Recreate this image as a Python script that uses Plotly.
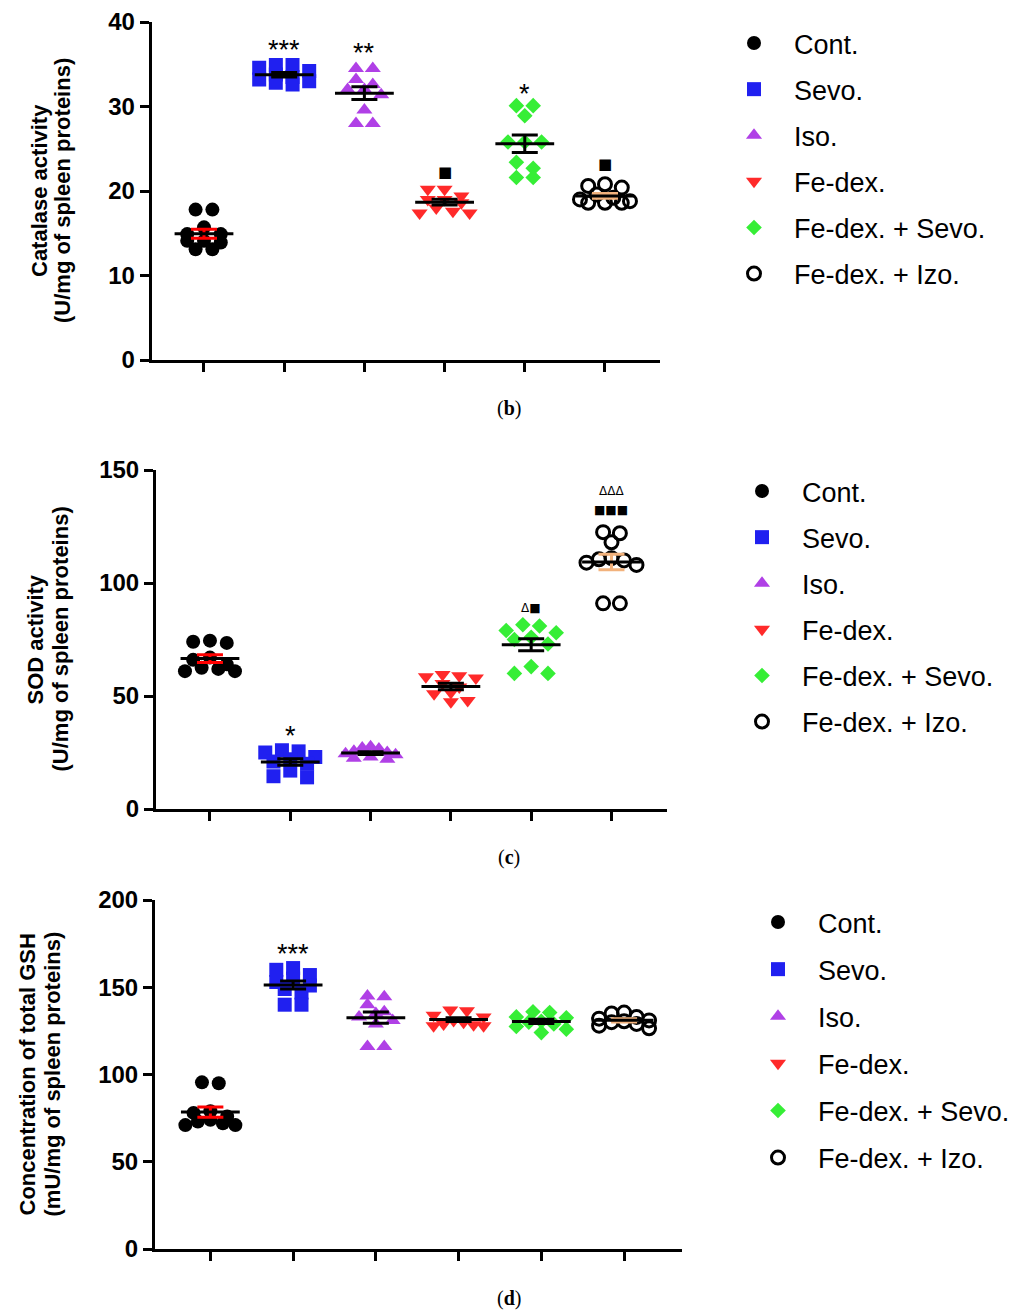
import plotly.graph_objects as go

W, H = 1035, 1311          # window size (page margin is removed, so figure == window)
FW, FH = W, H

# ---------------- data ----------------
groups = ["Cont.", "Sevo.", "Iso.", "Fe-dex.", "Fe-dex. + Sevo.", "Fe-dex. + Izo."]

catalase_cont = [17.8, 17.8, 15.7, 14.9, 14.9, 14.1, 14.1, 13.9, 13.1, 13.1]
catalase_sevo = [34.9, 34.9, 34.6, 34.2, 33.8, 33.5, 33.2, 33.0, 32.8, 32.6]
catalase_iso = [34.5, 34.5, 33.2, 32.6, 32.0, 32.0, 31.4, 29.6, 28.0, 28.0]
catalase_fedex = [20.2, 20.2, 19.4, 19.0, 19.0, 18.6, 18.0, 17.6, 17.4, 17.4]
catalase_fedex_sevo = [30.1, 30.1, 28.9, 25.8, 25.8, 25.8, 23.4, 22.7, 21.6, 21.6]
catalase_fedex_izo = [20.8, 20.6, 20.4, 19.6, 19.2, 19.0, 18.8, 18.6, 18.6, 18.6]

sod_cont = [74.5, 74.0, 73.5, 67.0, 66.0, 64.0, 62.5, 62.0, 61.0, 61.0]
sod_sevo = [26.0, 25.5, 25.0, 23.0, 22.0, 21.0, 20.0, 17.0, 14.5, 14.0]
sod_iso = [27.5, 27.0, 26.5, 25.5, 25.0, 24.5, 24.0, 23.0, 22.5, 22.0]
sod_fedex = [59.5, 59.0, 58.5, 58.0, 55.5, 54.0, 51.5, 51.0, 48.0, 47.5]
sod_fedex_sevo = [81.5, 81.0, 79.0, 78.0, 76.0, 75.0, 73.0, 63.0, 60.0, 60.0]
sod_fedex_izo = [122.5, 122.0, 118.0, 111.0, 110.5, 110.0, 109.0, 108.0, 91.0, 91.0]

gsh_cont = [95.5, 95.0, 79.0, 78.0, 76.0, 74.0, 73.0, 72.0, 71.0, 71.0]
gsh_sevo = [161.0, 160.0, 157.0, 155.0, 153.0, 151.0, 149.0, 147.0, 140.0, 140.0]
gsh_iso = [145.0, 144.5, 140.0, 136.0, 135.0, 133.0, 131.0, 129.0, 116.0, 116.0]
gsh_fedex = [137.0, 136.5, 134.0, 133.0, 131.0, 130.0, 129.0, 128.5, 128.0, 128.0]
gsh_fedex_sevo = [136.0, 135.5, 133.0, 132.5, 130.5, 130.0, 129.0, 127.5, 126.0, 124.0]
gsh_fedex_izo = [135.5, 135.0, 133.0, 132.0, 131.0, 130.5, 130.0, 129.0, 128.0, 126.5]

catalase = [catalase_cont, catalase_sevo, catalase_iso, catalase_fedex, catalase_fedex_sevo, catalase_fedex_izo]
sod = [sod_cont, sod_sevo, sod_iso, sod_fedex, sod_fedex_sevo, sod_fedex_izo]
gsh = [gsh_cont, gsh_sevo, gsh_iso, gsh_fedex, gsh_fedex_sevo, gsh_fedex_izo]

catalase_ticks = [0, 10, 20, 30, 40]
sod_ticks = [0, 50, 100, 150]
gsh_ticks = [0, 50, 100, 150, 200]

# significance marks: (text, group index, y value)
catalase_marks = [("***", 1, 37.6), ("**", 2, 37.3), ("*", 4, 32.4), ("■", 3, 22.2), ("■", 5, 23.2)]
sod_marks = [("*", 1, 35.8), ("Δ■", 4, 88.8), ("■■■", 5, 132.3), ("ΔΔΔ", 5, 140.8)]
gsh_marks = [("***", 1, 173.6)]

# ---------------- styles ----------------
colors = ["#000000", "#2020f0", "#b040e6", "#ff2a2a", "#36ee36", "#000000"]
symbols = ["circle", "square", "triangle-up", "triangle-down", "diamond", "circle-open"]
msizes = [14, 14, 14, 14, 12, 13]
sem_colors = ["#ff0000", "#000000", "#000000", "#000000", "#000000", "#f2b27c"]
FONT = "Liberation Sans, Arial, DejaVu Sans"


def fx(X):
    return X / FW


def fy(Y):
    return 1 - Y / FH


panels = [
    dict(data=catalase, ticks=catalase_ticks, marks=catalase_marks,
         titles=("Catalase activity", "(U/mg of spleen proteins)"), title_x=(40, 63),
         px=(151.7, 660), py=(22, 360), xr=(-0.652, 5.686),
         leg_x=714, leg_y=19, gap=8, caption="b", cap_y=408),
    dict(data=sod, ticks=sod_ticks, marks=sod_marks,
         titles=("SOD activity", "(U/mg of spleen proteins)"), title_x=(35, 60),
         px=(156, 667.3), py=(470, 809), xr=(-0.672, 5.695),
         leg_x=722, leg_y=467, gap=8, caption="c", cap_y=857),
    dict(data=gsh, ticks=gsh_ticks, marks=gsh_marks,
         titles=("Concentration of total GSH", "(mU/mg of spleen proteins)"), title_x=(27, 52),
         px=(155, 682), py=(900, 1249), xr=(-0.669, 5.70),
         leg_x=738, leg_y=898, gap=9, caption="d", cap_y=1298),
]


def swarm_offsets(vals, y_ppu, x_ppu, d=14.0, half=25.0):
    """Row-based column scatter: values closer than ~0.6 marker go side by side."""
    n = len(vals)
    order = sorted(range(n), key=lambda i: -vals[i])
    rows = []
    for i in order:
        if rows and (vals[rows[-1][0]] - vals[i]) * y_ppu < 0.6 * d:
            rows[-1].append(i)
        else:
            rows.append([i])
    offs = [0.0] * n
    for row in rows:
        k = len(row)
        sp = d * 1.2 if k == 1 else min(d * 1.2, 2 * half / (k - 1))
        slots = sorted([(j - (k - 1) / 2) * sp for j in range(k)], key=lambda s: (abs(s), s))
        for i, s in zip(row, slots):
            offs[i] = s / x_ppu
    return offs


fig = go.Figure()
layout = dict(width=FW, height=FH, margin=dict(l=0, r=0, t=0, b=0, pad=0, autoexpand=False),
              paper_bgcolor="white", plot_bgcolor="white", showlegend=True)
annotations = []

for pi, P in enumerate(panels):
    sfx = "" if pi == 0 else str(pi + 1)
    xa, ya = "x" + sfx, "y" + sfx
    leg = "legend" + sfx
    ymax = P["ticks"][-1]
    x0, x1 = P["px"]
    ytop, ybot = P["py"]
    x_ppu = (x1 - x0) / (P["xr"][1] - P["xr"][0])
    y_ppu = (ybot - ytop) / ymax

    for gi, vals in enumerate(P["data"]):
        offs = swarm_offsets(vals, y_ppu, x_ppu)
        xs = [gi + o for o in offs]
        open_sym = symbols[gi].endswith("open")
        fig.add_trace(go.Scatter(
            x=xs, y=vals, mode="markers", name=groups[gi],
            xaxis=xa, yaxis=ya, legend=leg, legendgroup=f"p{pi}g{gi}",
            marker=dict(symbol=symbols[gi], size=msizes[gi], color=colors[gi],
                        line=dict(width=3 if open_sym else 0, color=colors[gi])),
            hoverinfo="y"))
    for gi, vals in enumerate(P["data"]):
        n = len(vals)
        mean = sum(vals) / n
        sd = (sum((v - mean) ** 2 for v in vals) / (n - 1)) ** 0.5
        sem = sd / n ** 0.5
        fig.add_trace(go.Scatter(
            x=[gi], y=[mean], mode="markers", showlegend=False,
            xaxis=xa, yaxis=ya, legend=leg,
            marker=dict(symbol="line-ew", size=42, color="black",
                        line=dict(width=3, color="black")),
            error_y=dict(type="data", array=[sem], visible=True,
                         color=sem_colors[gi], thickness=3, width=13),
            hoverinfo="y"))

    layout["xaxis" + sfx] = dict(
        domain=[fx(x0), fx(x1)], anchor=ya, range=list(P["xr"]),
        showline=True, linewidth=3, linecolor="black", mirror=False,
        ticks="outside", ticklen=9, tickwidth=3, tickcolor="black",
        tickvals=list(range(len(groups))), showticklabels=False,
        showgrid=False, zeroline=False, fixedrange=True, automargin=False)
    layout["yaxis" + sfx] = dict(
        domain=[fy(ybot), fy(ytop)], anchor=xa, range=[0, ymax],
        showline=True, linewidth=3, linecolor="black",
        ticks="outside", ticklen=9, tickwidth=3, tickcolor="black",
        tickvals=P["ticks"], ticktext=[f"<b>{t}</b>" for t in P["ticks"]],
        tickfont=dict(family=FONT, size=24, color="black"),
        showgrid=False, zeroline=False, fixedrange=True, automargin=False)
    layout[leg] = dict(
        x=fx(P["leg_x"]), y=fy(P["leg_y"]), xanchor="left", yanchor="top",
        font=dict(family=FONT, size=27, color="black"),
        itemwidth=70, tracegroupgap=P["gap"], traceorder="grouped",
        bgcolor="rgba(0,0,0,0)", borderwidth=0)

    ymid = fy((ytop + ybot) / 2)
    for line, tx in zip(P["titles"], P["title_x"]):
        annotations.append(dict(
            text=f"<b>{line}</b>", xref="paper", yref="paper", x=fx(tx), y=ymid,
            xanchor="center", yanchor="middle", textangle=-90, showarrow=False,
            font=dict(family=FONT, size=22, color="black")))

    for txt, gx, gy in P["marks"]:
        star = "*" in txt
        annotations.append(dict(
            text=txt, xref=xa, yref=ya, x=gx, y=gy, showarrow=False,
            xanchor="center", yanchor="middle",
            yshift=-8 if star else 0,
            font=dict(family=FONT if star else "DejaVu Sans, Liberation Sans",
                      size=27 if star else (15 if pi == 0 else 12), color="black")))

    annotations.append(dict(
        text=f"(<b>{P['caption']}</b>)", xref="paper", yref="paper",
        x=fx(509), y=fy(P["cap_y"]), xanchor="center", yanchor="middle",
        showarrow=False, font=dict(family="Liberation Serif, DejaVu Serif", size=20, color="black")))

layout["annotations"] = annotations
fig.update_layout(**layout)
fig.write_html("out.html",
               config={"displayModeBar": False},
               post_script="document.body.style.margin='0px';document.body.style.overflow='hidden';")
